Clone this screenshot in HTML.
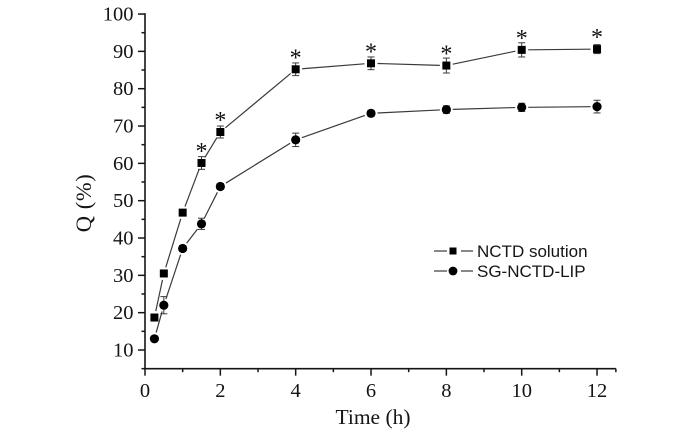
<!DOCTYPE html>
<html>
<head>
<meta charset="utf-8">
<style>
html,body{margin:0;padding:0;background:#fff;}
svg{display:block;filter:blur(0.3px);}
</style>
</head>
<body>
<svg id="chart" width="688" height="434" viewBox="0 0 688 434" xmlns="http://www.w3.org/2000/svg"></svg>
<script>
const times = [0.25, 0.5, 1, 1.5, 2, 4, 6, 8, 10, 12];
const solutionValues = [18.7, 30.5, 46.8, 60.1, 68.4, 85.2, 86.8, 86.2, 90.4, 90.6];
const solutionErrors = [0.6, 0.8, 0.6, 1.7, 1.6, 1.7, 1.7, 2.0, 1.9, 1.2];
const lipValues = [13.0, 22.0, 37.2, 43.8, 53.8, 66.3, 73.4, 74.4, 75.0, 75.2];
const lipErrors = [0.6, 2.3, 0.8, 1.5, 0.8, 1.8, 0.8, 1.0, 1.1, 1.7];
const significantTimes = [1.5, 2, 4, 6, 8, 10, 12];
const xTickLabels = [0, 2, 4, 6, 8, 10, 12];
const xMinorTicks = [1, 3, 5, 7, 9, 11];
const yTickLabels = [10, 20, 30, 40, 50, 60, 70, 80, 90, 100];
const yMinorTicks = [5, 15, 25, 35, 45, 55, 65, 75, 85, 95];

const svg = document.getElementById('chart');
const NS = 'http://www.w3.org/2000/svg';
const INK = '#151515';
const LINE = '#3a3a3a';
function X(t) { return 145 + t * 37.67; }
function Y(v) { return 350 - (v - 10) * 3.733; }
function make(tag, attrs, parent) {
  const el = document.createElementNS(NS, tag);
  for (const k in attrs) el.setAttribute(k, attrs[k]);
  (parent || svg).appendChild(el);
  return el;
}
function seg(x1, y1, x2, y2, w, c, parent) {
  return make('line', {x1: x1, y1: y1, x2: x2, y2: y2, stroke: c || INK, 'stroke-width': w || 1.5}, parent);
}

// axes
const yAxis = seg(145, Y(100) - 0.8, 145, Y(5) + 0.8, 1.6);


const xAxis = seg(145, Y(5), X(12.5), Y(5), 1.6);



yTickLabels.forEach(function (v) {
  const tick = seg(138, Y(v), 145, Y(v), 1.5);
  
  
  const label = make('text', {x: 133.5, y: Y(v) + 6.5, 'text-anchor': 'end', 'font-family': '"Liberation Serif", serif', 'font-size': 20.5, fill: INK});
  
  
  label.textContent = v;
});
yMinorTicks.forEach(function (v) {
  const tick = seg(141.5, Y(v), 145, Y(v), 1.5);
  
  
});
xTickLabels.forEach(function (t) {
  const tick = seg(X(t), Y(5), X(t), Y(5) + 7, 1.5);
  
  
  const label = make('text', {x: X(t), y: 397, 'text-anchor': 'middle', 'font-family': '"Liberation Serif", serif', 'font-size': 20.5, fill: INK});
  
  
  label.textContent = t;
});
xMinorTicks.forEach(function (t) {
  const tick = seg(X(t), Y(5), X(t), Y(5) + 3.5, 1.5);
  
  
});
const endTick = seg(X(12.5), Y(5), X(12.5), Y(5) + 3.5, 1.5);



// titles
const xTitle = make('text', {x: 373, y: 424, 'text-anchor': 'middle', 'font-family': '"Liberation Serif", serif', 'font-size': 21.5, fill: INK});


xTitle.textContent = 'Time (h)';
const yTitle = make('text', {x: 0, y: 0, transform: 'translate(91,203) rotate(-90)', 'text-anchor': 'middle', 'font-family': '"Liberation Serif", serif', 'font-size': 22.5, 'letter-spacing': 0.6, fill: INK});


yTitle.textContent = 'Q (%)';

// series
function connect(values, gap, group) {
  for (let i = 0; i < times.length - 1; i++) {
    const x1 = X(times[i]), y1 = Y(values[i]), x2 = X(times[i + 1]), y2 = Y(values[i + 1]);
    const len = Math.hypot(x2 - x1, y2 - y1);
    if (len <= gap * 2) continue;
    const ux = (x2 - x1) / len, uy = (y2 - y1) / len;
    seg(x1 + ux * gap, y1 + uy * gap, x2 - ux * gap, y2 - uy * gap, 1.2, LINE, group);
  }
}
function errorBars(values, errors, group) {
  times.forEach(function (t, i) {
    const x = X(t), hi = Y(values[i] + errors[i]), lo = Y(values[i] - errors[i]);
    seg(x, hi, x, lo, 1, LINE, group);
    seg(x - 3.5, hi, x + 3.5, hi, 1, LINE, group);
    seg(x - 3.5, lo, x + 3.5, lo, 1, LINE, group);
  });
}

const solutionGroup = make('g', {});


connect(solutionValues, 6.5, solutionGroup);
errorBars(solutionValues, solutionErrors, solutionGroup);
solutionValues.forEach(function (v, i) {
  const point = make('rect', {x: X(times[i]) - 4, y: Y(v) - 4, width: 8, height: 8, fill: '#000'}, solutionGroup);
  
  
});

const lipGroup = make('g', {});


connect(lipValues, 6.5, lipGroup);
errorBars(lipValues, lipErrors, lipGroup);
lipValues.forEach(function (v, i) {
  const point = make('circle', {cx: X(times[i]), cy: Y(v), r: 4.6, fill: '#000'}, lipGroup);
  
  
});

significantTimes.forEach(function (t) {
  const i = times.indexOf(t);
  const star = make('text', {x: X(t), y: Y(solutionValues[i]) - 4, 'text-anchor': 'middle', 'font-family': '"Liberation Serif", serif', 'font-size': 24, fill: '#111'});
  
  
  star.textContent = '*';
});

// legend
const legend = make('g', {});


function legendEntry(y, label, isSquare) {
  seg(434, y, 447, y, 1.2, LINE, legend);
  seg(461, y, 473, y, 1.2, LINE, legend);
  if (isSquare) {
    const m = make('rect', {x: 449.5, y: y - 3.5, width: 7, height: 7, fill: '#000'}, legend);
    
    
  } else {
    const m = make('circle', {cx: 453, cy: y, r: 4.4, fill: '#000'}, legend);
    
    
  }
  const t = make('text', {x: 477, y: y + 6, 'font-family': '"Liberation Sans", sans-serif', 'font-size': 17, fill: INK}, legend);
  
  
  t.textContent = label;
}
legendEntry(251, 'NCTD solution', true);
legendEntry(271, 'SG-NCTD-LIP', false);
</script>
</body>
</html>
